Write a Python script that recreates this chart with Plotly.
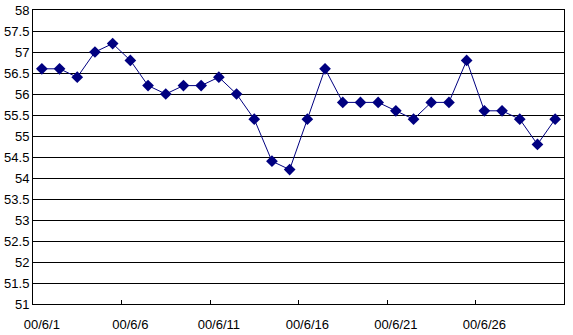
import plotly.graph_objects as go

dates = ["00/6/1", "00/6/2", "00/6/3", "00/6/4", "00/6/5", "00/6/6", "00/6/7", "00/6/8",
         "00/6/9", "00/6/10", "00/6/11", "00/6/12", "00/6/13", "00/6/14", "00/6/15",
         "00/6/16", "00/6/17", "00/6/18", "00/6/19", "00/6/20", "00/6/21", "00/6/22",
         "00/6/23", "00/6/24", "00/6/25", "00/6/26", "00/6/27", "00/6/28", "00/6/29", "00/6/30"]
values = [56.6, 56.6, 56.4, 57.0, 57.2, 56.8, 56.2, 56.0, 56.2, 56.2,
          56.4, 56.0, 55.4, 54.4, 54.2, 55.4, 56.6, 55.8, 55.8, 55.8,
          55.6, 55.4, 55.8, 55.8, 56.8, 55.6, 55.6, 55.4, 54.8, 55.4]
y_ticks = [51, 51.5, 52, 52.5, 53, 53.5, 54, 54.5, 55, 55.5, 56, 56.5, 57, 57.5, 58]

fig = go.Figure()
fig.add_trace(go.Scatter(
    x=dates, y=values, mode="lines+markers",
    line=dict(color="#000080", width=1),
    marker=dict(symbol="diamond", size=9, color="#000080"),
))

font = dict(family="Liberation Sans, Arial, sans-serif", size=13, color="black")
fig.update_layout(
    width=573, height=335,
    margin=dict(l=33, r=9, t=10, b=31),
    paper_bgcolor="white", plot_bgcolor="white",
    showlegend=False, font=font,
    xaxis=dict(type="category", range=[-0.5, 29.5], tickmode="linear", tick0=0, dtick=5,
               tickson="boundaries", ticks="inside", ticklen=4, tickcolor="black",
               tickangle=0, automargin=False, ticklabelstandoff=8,
               showgrid=False, showline=True, linecolor="black", linewidth=1, mirror=True,
               zeroline=False, tickfont=font),
    yaxis=dict(range=[51, 58], tickvals=y_ticks, ticktext=[f"{v:g}" for v in y_ticks],
               showgrid=True, gridcolor="black", gridwidth=1, automargin=False,
               showline=True, linecolor="black", linewidth=1, mirror=True,
               ticks="", zeroline=False, tickfont=font),
)
fig.write_html("out.html")
